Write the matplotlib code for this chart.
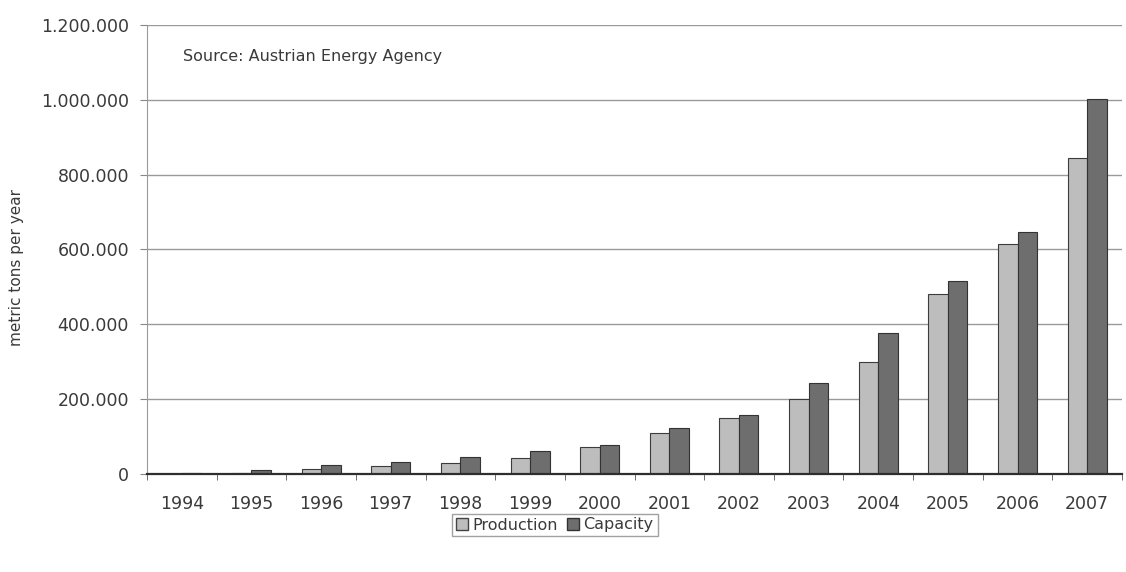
import numpy as np
import matplotlib.pyplot as plt
import matplotlib.patches as mpatches
from matplotlib.ticker import FuncFormatter, FixedLocator

years = ['1994', '1995', '1996', '1997', '1998', '1999', '2000',
         '2001', '2002', '2003', '2004', '2005', '2006', '2007']
production = [1000, 2000, 13000, 21000, 30000, 43000, 72000,
              110000, 150000, 200000, 300000, 482000, 615000, 845000]
capacity = [2000, 10000, 24000, 33000, 45000, 62000, 77000,
            123000, 158000, 243000, 377000, 516000, 648000, 1002000]
y_ticks = [0, 200000, 400000, 600000, 800000, 1000000, 1200000]

plt.rcParams['font.family'] = ['DejaVu Sans']
text_col = '#3a3a3a'
prod_col = '#bdbdbd'
cap_col = '#6e6e6e'


def dotted(v, pos):
	# thousands separated with dots
	return '{:,.0f}'.format(v).replace(',', '.')


fig = plt.figure(figsize=(11.26, 5.72), dpi=100)
ax = fig.add_axes([147/1126, 98/572, 975/1126, 449/572])

x = np.arange(len(years))
w = 0.28
ax.bar(x - w/2, production, w, color=prod_col, edgecolor='#3c3c3c', linewidth=0.8, zorder=3)
ax.bar(x + w/2, capacity, w, color=cap_col, edgecolor='#333333', linewidth=0.8, zorder=3)

ax.set_xlim(-0.5, len(years) - 0.5)
ax.set_ylim(0, 1200000)
ax.set_yticks(y_ticks)
ax.yaxis.set_major_formatter(FuncFormatter(dotted))
ax.yaxis.grid(True, color='#9a9a9a', linewidth=1.0, zorder=0)
ax.set_axisbelow(True)

ax.set_xticks(x)
ax.set_xticklabels(years)
ax.xaxis.set_minor_locator(FixedLocator(np.arange(-0.5, len(years), 1.0)))
ax.tick_params(axis='x', which='major', length=0, pad=15, labelsize=12.5, labelcolor=text_col)
ax.tick_params(axis='x', which='minor', length=4, color='#555555')
ax.tick_params(axis='y', length=5, color='#888888', pad=8, labelsize=12.5, labelcolor=text_col)

for s in ['top', 'right']:
	ax.spines[s].set_visible(False)
ax.spines['left'].set_color('#9a9a9a')
ax.spines['bottom'].set_color('#2e2e2e')
ax.spines['bottom'].set_linewidth(1.6)
ax.spines['bottom'].set_zorder(4)

fig.text(17/1126, 1 - 268/572, 'metric tons per year', rotation=90,
	ha='center', va='center', fontsize=11, color=text_col)
fig.text(183/1126, 1 - 57/572, 'Source: Austrian Energy Agency',
	ha='left', va='center', fontsize=11.5, color=text_col)

p = mpatches.Patch(facecolor=prod_col, edgecolor='#444444', label='Production')
c = mpatches.Patch(facecolor=cap_col, edgecolor='#333333', label='Capacity')
leg = fig.legend(handles=[p, c], loc='center', bbox_to_anchor=(555/1126, 1 - 525/572),
	ncol=2, fontsize=11.5, frameon=True, fancybox=False, handlelength=0.7, handleheight=0.7,
	handletextpad=0.3, columnspacing=0.6, borderpad=0.25, labelcolor=text_col)
leg.get_frame().set_edgecolor('#8a8a8a')
leg.get_frame().set_linewidth(1.0)

plt.savefig('out.png', dpi=100)
